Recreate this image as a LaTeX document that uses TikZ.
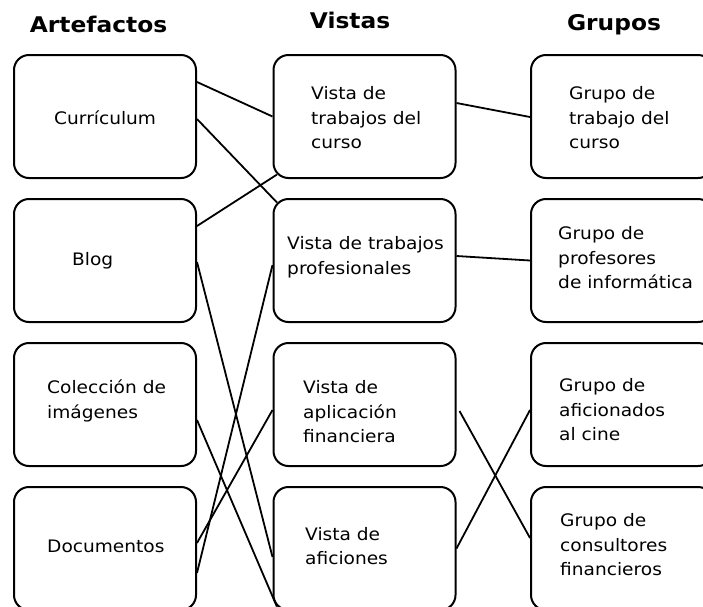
\documentclass[tikz,border=0pt]{standalone}
\usepackage{fontspec}
\setmainfont{DejaVu Sans}[FakeStretch=1.08]
\tikzset{
	caja/.style={draw, rounded corners=15pt, minimum width=182pt, minimum height=123pt, line width=2pt, inner sep=0pt},
	texto/.style={align=left, inner sep=0pt, anchor=west, font=\fontsize{17.2}{24.5}\selectfont},
	titulo/.style={anchor=base, inner sep=0pt, font=\fontsize{21.6}{24}\selectfont\bfseries},
	enlace/.style={line width=1.8pt}
}
\begin{document}
\begin{tikzpicture}[x=1pt,y=-1pt]
		\clip (0,0) rectangle (703,606);
		
		\node[titulo] (hart) at (98.6,32) {Artefactos};
		\node[titulo] (hvis) at (350,28) {Vistas};
		\node[titulo] (hgru) at (614,30) {Grupos};
		
		\node[caja] (cur) at (105,116.5) {};
		\node[caja] (blog) at (105,260.5) {};
		\node[caja] (col) at (105,404.5) {};
		\node[caja] (doc) at (105,548.5) {};
		\node[texto] (tcur) at (54,118) {Currículum};
		\node[texto] (tblog) at (72,261) {Blog};
		\node[texto] (tcol) at (47,401) {Colección de\\imágenes};
		\node[texto] (tdoc) at (47,546) {Documentos};
		
		\node[caja] (vcur) at (364.5,116.5) {};
		\node[caja] (vprof) at (364.5,260.5) {};
		\node[caja] (vapl) at (364.5,404.5) {};
		\node[caja] (vafic) at (364.5,548.5) {};
		\node[texto] (tvcur) at (311,118) {Vista de\\trabajos del\\curso};
		\node[texto] (tvprof) at (287,257) {Vista de trabajos\\profesionales};
		\node[texto] (tvapl) at (303,412) {Vista de\\aplicación\\financiera};
		\node[texto] (tvafic) at (305,546) {Vista de\\aficiones};
		
		\node[caja] (gcur) at (622,116.5) {};
		\node[caja] (gprof) at (622,260.5) {};
		\node[caja] (gafic) at (622,404.5) {};
		\node[caja] (gcons) at (622,548.5) {};
		\node[texto] (tgcur) at (569,118) {Grupo de\\trabajo del\\curso};
		\node[texto] (tgprof) at (558,258) {Grupo de\\profesores\\de informática};
		\node[texto] (tgafic) at (559,410) {Grupo de\\aficionados\\al cine};
		\node[texto] (tgcons) at (560,545) {Grupo de\\consultores\\financieros};
		
		\draw[enlace] ([yshift=34.5pt]cur.east) -- (vcur.west);
		\draw[enlace] ([yshift=-2.5pt]cur.east) -- ([xshift=4.4pt,yshift=-4.4pt]vprof.north west);
		\draw[enlace] ([yshift=34.5pt]blog.east) -- ([xshift=4.4pt,yshift=4.4pt]vcur.south west);
		\draw[enlace] ([yshift=-1.5pt]blog.east) -- ([yshift=-8.5pt]vafic.west);
		\draw[enlace] ([yshift=-15.5pt]col.east) -- ([xshift=4.4pt,yshift=4.4pt]vafic.south west);
		\draw[enlace] ([yshift=-24.5pt]doc.east) -- ([yshift=-4.5pt]vprof.west);
		\draw[enlace] ([yshift=5.5pt]doc.east) -- ([yshift=-5.5pt]vapl.west);
		
		\draw[enlace] ([yshift=13.5pt]vcur.east) -- ([yshift=-0.5pt]gcur.west);
		\draw[enlace] ([yshift=4.5pt]vprof.east) -- (gprof.west);
		\draw[enlace] ([xshift=3pt,yshift=-6.5pt]vapl.east) -- ([yshift=10.5pt]gcons.west);
		\draw[enlace] (vafic.east) -- ([yshift=-5.5pt]gafic.west);
\end{tikzpicture}
\end{document}
